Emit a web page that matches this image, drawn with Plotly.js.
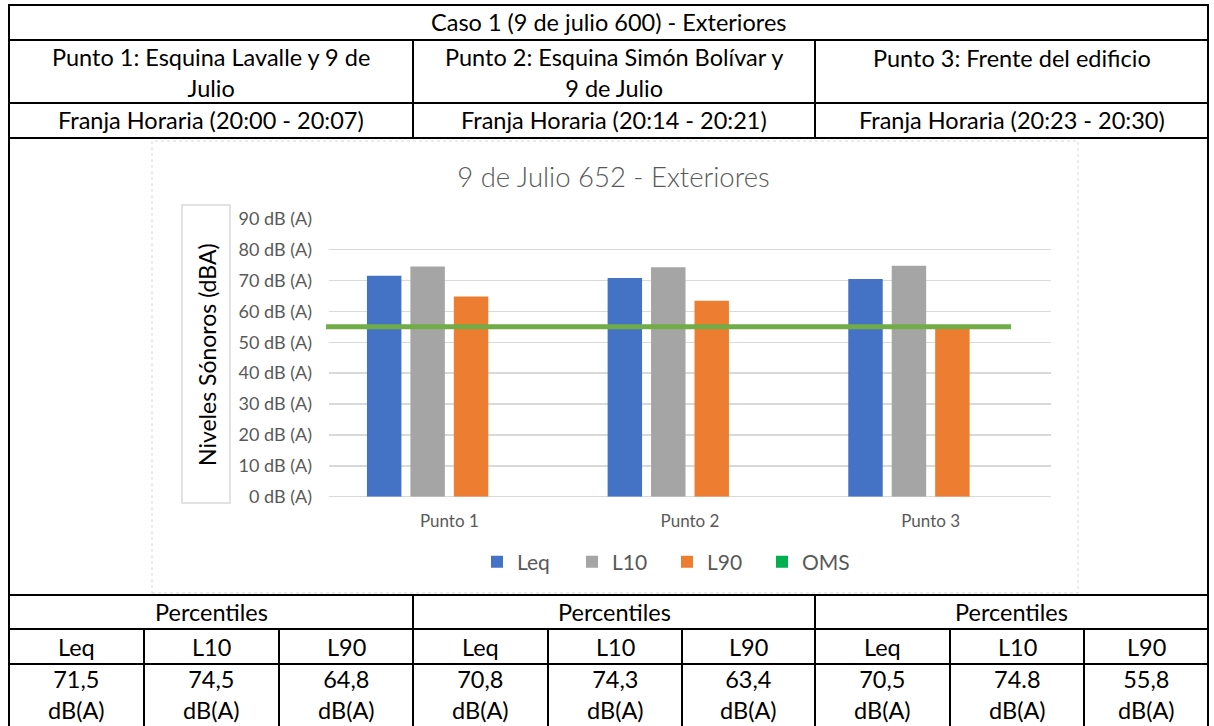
<!DOCTYPE html>
<html>
<head>
<meta charset="utf-8">
<script src="https://cdn.plot.ly/plotly-3.0.1.min.js"></script>
<style>
  html, body { margin: 0; padding: 0; background: #ffffff; }
  #chart { width: 1214px; height: 726px; }
</style>
</head>
<body>
<div id="chart"></div>
<script>
// ---------- Data ----------
const categories = ['Punto 1', 'Punto 2', 'Punto 3'];
const leq = [71.5, 70.8, 70.5];
const l10 = [74.5, 74.3, 74.8];
const l90 = [64.8, 63.4, 54.3];
const omsLevel = 55;
const seriesNames = ['Leq', 'L10', 'L90', 'OMS'];
const tickSuffix = ' dB (A)';
const chartTitle = '9 de Julio 652 - Exteriores';
const yAxisTitle = 'Niveles Sónoros (dBA)';

// ---------- Table texts ----------
const caseTitle = 'Caso 1 (9 de julio 600) - Exteriores';
const pointNames = ['Punto 1: Esquina Lavalle y 9 de<br>Julio', 'Punto 2: Esquina Simón Bolívar y<br>9 de Julio', 'Punto 3: Frente del edificio'];
const timeSlots = ['Franja Horaria (20:00 - 20:07)', 'Franja Horaria (20:14 - 20:21)', 'Franja Horaria (20:23 - 20:30)'];
const groupHeader = 'Percentiles';
const subHeaders = ['Leq', 'L10', 'L90'];
const tableLeq = ['71,5', '70,8', '70,5'];
const tableL10 = ['74,5', '74,3', '74.8'];
const tableL90 = ['64,8', '63,4', '55,8'];
const unit = 'dB(A)';

// ---------- Geometry helpers (pixels -> paper) ----------
const W = 1214, H = 726;
const px = x => x / W;
const py = y => 1 - y / H;

const FONT = 'Lato, "Open Sans", sans-serif';
const GRAY = '#595959';

// table geometry
const tL = 9, tR = 1208;
const mainDiv = [413, 815];
const subDiv = [144, 279, 548, 682, 950, 1084];
const rowY = { top: 5, r1: 40, r2: 103, r3: 138, r5: 595, r6: 629, r7: 664, bottom: 726 };
const groupCenters = [(tL + mainDiv[0]) / 2, (mainDiv[0] + mainDiv[1]) / 2, (mainDiv[1] + tR) / 2];
const colEdges = [tL, subDiv[0], subDiv[1], mainDiv[0], subDiv[2], subDiv[3], mainDiv[1], subDiv[4], subDiv[5], tR];

const shapes = [];
const line = (x0, y0, x1, y1) => shapes.push({
  type: 'line', xref: 'paper', yref: 'paper',
  x0: px(x0), x1: px(x1), y0: py(y0), y1: py(y1),
  line: { color: '#000000', width: 2 }
});
// horizontal lines
[rowY.top, rowY.r1, rowY.r2, rowY.r3, rowY.r5, rowY.r6, rowY.r7].forEach(y => line(tL - 1, y, tR + 1, y));
// outer verticals
line(tL, rowY.top, tL, rowY.bottom);
line(tR, rowY.top, tR, rowY.bottom);
// main dividers
mainDiv.forEach(x => { line(x, rowY.r1, x, rowY.r3); line(x, rowY.r5, x, rowY.bottom); });
// sub dividers
subDiv.forEach(x => line(x, rowY.r6, x, rowY.bottom));

// chart frame
shapes.push({
  type: 'rect', xref: 'paper', yref: 'paper', layer: 'below',
  x0: px(152), x1: px(1078), y0: py(593), y1: py(141),
  line: { color: '#D9D9D9', width: 1, dash: 'dot' }
});
// axis title box
shapes.push({
  type: 'rect', xref: 'paper', yref: 'paper', layer: 'below',
  x0: px(182), x1: px(230), y0: py(503), y1: py(205),
  line: { color: '#D9D9D9', width: 1.5 }
});
// OMS level line
shapes.push({
  type: 'line', xref: 'paper', yref: 'y', layer: 'above',
  x0: px(326), x1: px(1011), y0: omsLevel, y1: omsLevel,
  line: { color: '#70AD47', width: 5 }
});

// ---------- Annotations ----------
const annotations = [];
const tableFont = { family: FONT, size: 23.5, color: '#000000' };
const addText = (text, x, y, font) => annotations.push({
  text: text, xref: 'paper', yref: 'paper', x: px(x), y: py(y),
  xanchor: 'center', yanchor: 'middle', showarrow: false, font: font || tableFont
});
addText(caseTitle, (tL + tR) / 2, (rowY.top + rowY.r1) / 2);
pointNames.forEach((t, i) => addText(t, groupCenters[i], t.indexOf('<br>') >= 0 ? 73 : 58));
timeSlots.forEach((t, i) => addText(t, groupCenters[i], (rowY.r2 + rowY.r3) / 2));
groupCenters.forEach(c => addText(groupHeader, c, (rowY.r5 + rowY.r6) / 2));
for (let g = 0; g < 3; g++) {
  const vals = [tableLeq[g], tableL10[g], tableL90[g]];
  for (let k = 0; k < 3; k++) {
    const c = (colEdges[g * 3 + k] + colEdges[g * 3 + k + 1]) / 2;
    addText(subHeaders[k], c, (rowY.r6 + rowY.r7) / 2);
    addText(vals[k] + '<br>' + unit, c, 694);
  }
}
// y-axis title (rotated, inside its box)
annotations.push({
  text: yAxisTitle, xref: 'paper', yref: 'paper', x: px(207), y: py(355),
  xanchor: 'center', yanchor: 'middle', textangle: -90, showarrow: false,
  font: { family: FONT, size: 23, color: '#000000' }
});

// ---------- Traces ----------
const colors = ['#4472C4', '#A5A5A5', '#ED7D31', '#00B050'];
const seriesValues = [leq, l10, l90, categories.map(() => null)];
const traces = seriesNames.map((name, i) => ({
  type: 'bar', name: name, x: categories, y: seriesValues[i],
  marker: { color: colors[i], line: { width: 0 } },
  hoverinfo: 'skip'
}));

const layout = {
  width: W, height: H,
  margin: { l: 0, r: 0, t: 0, b: 0, pad: 0 },
  paper_bgcolor: '#ffffff', plot_bgcolor: 'rgba(0,0,0,0)',
  barmode: 'group', bargap: 0.278, bargroupgap: 0.207,
  title: {
    text: chartTitle, x: px(613.5), xanchor: 'center', y: py(177), yanchor: 'middle',
    font: { family: FONT, size: 27.5, color: GRAY, weight: 300 }
  },
  xaxis: {
    domain: [px(329), px(1051)],
    type: 'category',
    showgrid: false, showline: false, zeroline: false, ticks: '',
    tickfont: { family: FONT, size: 17, color: GRAY },
    ticklabelstandoff: 12,
    fixedrange: true
  },
  yaxis: {
    domain: [py(496.7), py(218.7)],
    range: [0, 90], dtick: 10, tick0: 0,
    ticksuffix: tickSuffix,
    showgrid: true, gridcolor: '#D9D9D9', gridwidth: 1.5,
    zeroline: true, zerolinecolor: '#D9D9D9', zerolinewidth: 1.5,
    showline: false, ticks: '',
    tickfont: { family: FONT, size: 18, color: GRAY },
    ticklabelstandoff: 16,
    fixedrange: true
  },
  showlegend: true,
  legend: {
    orientation: 'h', x: px(477), xanchor: 'left', y: py(562), yanchor: 'middle',
    font: { family: FONT, size: 21, color: GRAY },
    bgcolor: 'rgba(0,0,0,0)', entrywidth: 50, traceorder: 'normal'
  },
  shapes: shapes,
  annotations: annotations
};

Plotly.newPlot('chart', traces, layout, { displayModeBar: false, staticPlot: true });
</script>
</body>
</html>
